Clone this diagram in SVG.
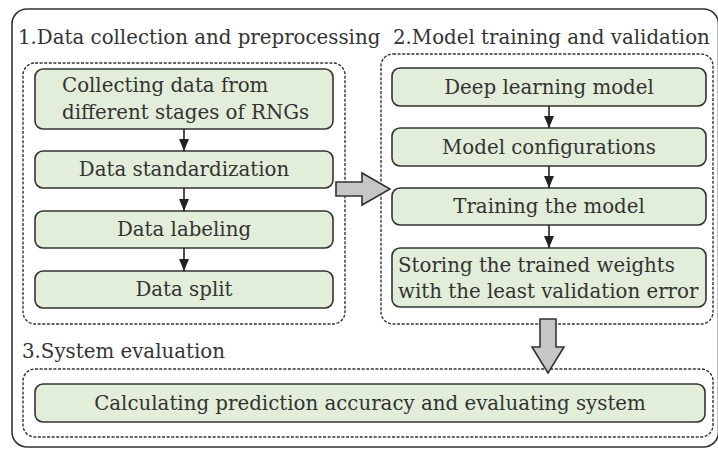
<svg xmlns="http://www.w3.org/2000/svg" width="718" height="449" viewBox="0 0 718 449">
<defs>
<style>
.frame{fill:none;stroke:#333;stroke-width:1.6}
.sec{fill:none;stroke:#333;stroke-width:1.4;stroke-dasharray:3 1.6}
.node{fill:#e2eed9;stroke:#333;stroke-width:1.6}
.t{font-family:"DejaVu Serif","Liberation Serif",serif;fill:#333;font-size:19.8px}
.title{font-family:"DejaVu Serif","Liberation Serif",serif;fill:#333;font-size:19.8px}
.c{text-anchor:middle}
.arr{stroke:#222;stroke-width:1.6;fill:none}
.big{fill:#c6c6c6;stroke:#333;stroke-width:1.6;stroke-linejoin:miter}
</style>
<marker id="ah" viewBox="0 0 12 10" refX="12" refY="5" markerWidth="12" markerHeight="10" markerUnits="userSpaceOnUse" orient="auto">
<path d="M0,0 L12,5 L0,10 Z" fill="#222"/>
</marker>
</defs>
<rect width="718" height="449" fill="#fff"/>
<rect class="frame" x="12" y="9" width="706.5" height="438" rx="15"/>
<g id="section1">
<text class="title" x="18" y="44">1.Data collection and preprocessing</text>
<rect class="sec" x="23" y="63" width="322" height="261" rx="12"/>
</g>
<g id="section2">
<text class="title" x="393" y="44">2.Model training and validation</text>
<rect class="sec" x="381" y="54" width="332" height="270" rx="12"/>
</g>
<g id="section3">
<text class="title" x="22" y="358">3.System evaluation</text>
<rect class="sec" x="23" y="369" width="690" height="68" rx="12"/>
</g>
<g id="n1">
<rect class="node" x="35" y="69" width="298" height="60" rx="8"/>
<text class="t" x="62" y="92">Collecting data from</text>
<text class="t" x="62" y="119">different stages of RNGs</text>
</g>
<g id="n2">
<rect class="node" x="35" y="151" width="298" height="37" rx="8"/>
<text class="t c" x="184" y="176">Data standardization</text>
</g>
<g id="n3">
<rect class="node" x="35" y="211" width="298" height="37" rx="8"/>
<text class="t c" x="184" y="236">Data labeling</text>
</g>
<g id="n4">
<rect class="node" x="35" y="271" width="298" height="37" rx="8"/>
<text class="t c" x="184" y="296">Data split</text>
</g>
<g id="n5">
<rect class="node" x="392" y="68" width="314" height="38" rx="8"/>
<text class="t c" x="549" y="94">Deep learning model</text>
</g>
<g id="n6">
<rect class="node" x="392" y="128" width="314" height="38" rx="8"/>
<text class="t c" x="549" y="154">Model configurations</text>
</g>
<g id="n7">
<rect class="node" x="392" y="188" width="314" height="37" rx="8"/>
<text class="t c" x="549" y="213">Training the model</text>
</g>
<g id="n8">
<rect class="node" x="392" y="248" width="314" height="59" rx="8"/>
<text class="t" x="398" y="272">Storing the trained weights</text>
<text class="t" x="398" y="298">with the least validation error</text>
</g>
<g id="n9">
<rect class="node" x="35" y="384" width="670" height="38" rx="8"/>
<text class="t c" x="370" y="410">Calculating prediction accuracy and evaluating system</text>
</g>
<g id="connectors">
<line class="arr" x1="184" y1="129" x2="184" y2="151" marker-end="url(#ah)"/>
<line class="arr" x1="184" y1="188" x2="184" y2="211" marker-end="url(#ah)"/>
<line class="arr" x1="184" y1="248" x2="184" y2="271" marker-end="url(#ah)"/>
<line class="arr" x1="549" y1="106" x2="549" y2="128" marker-end="url(#ah)"/>
<line class="arr" x1="549" y1="166" x2="549" y2="188" marker-end="url(#ah)"/>
<line class="arr" x1="549" y1="225" x2="549" y2="248" marker-end="url(#ah)"/>
<polygon class="big" points="336,182 362,182 362,173 390,189 362,205 362,196 336,196"/>
<polygon class="big" points="540,319 556,319 556,347 564,347 548,373 532,347 540,347"/>
</g>
</svg>
